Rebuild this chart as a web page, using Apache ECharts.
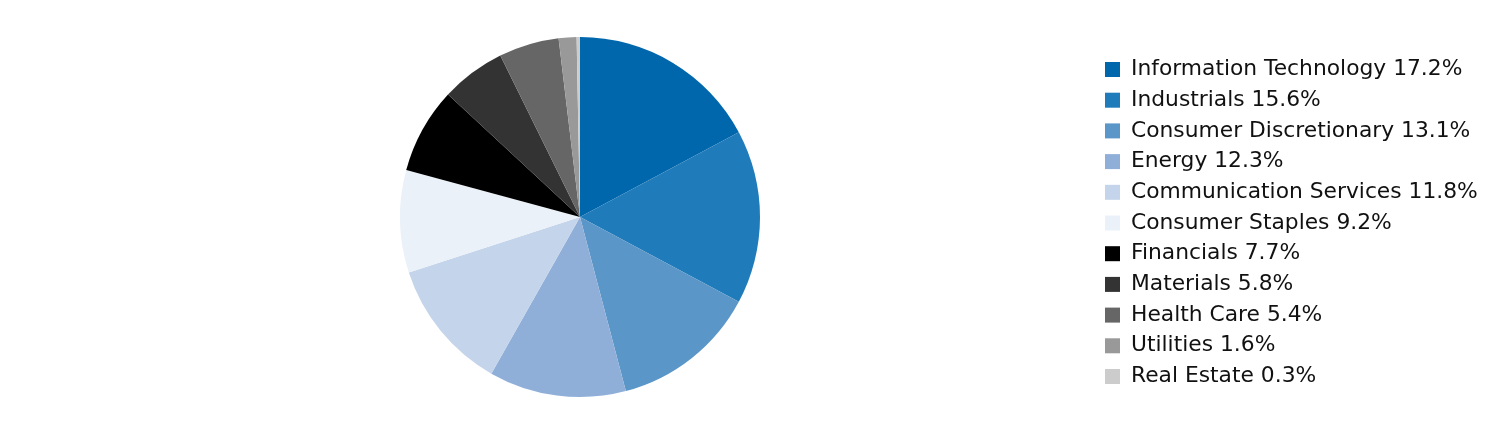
<!DOCTYPE html>
<html>
<head>
<meta charset="utf-8">
<script src="https://cdn.jsdelivr.net/npm/echarts@6/dist/echarts.min.js"></script>
<style>
  html, body { margin: 0; padding: 0; background: #fff; }
  #chart { width: 1512px; height: 444px; }
</style>
</head>
<body>
<div id="chart"></div>
<script>
var sectors = ['Information Technology', 'Industrials', 'Consumer Discretionary', 'Energy',
    'Communication Services', 'Consumer Staples', 'Financials', 'Materials',
    'Health Care', 'Utilities', 'Real Estate'];
var weights = [17.2, 15.6, 13.1, 12.3, 11.8, 9.2, 7.7, 5.8, 5.4, 1.6, 0.3];
var colors = ['#0067ac', '#1f7bba', '#5b96c8', '#8fafd9', '#c4d4ea', '#ebf1f8',
    '#000000', '#333333', '#666666', '#999999', '#cccccc'];

var myChart = echarts.init(document.getElementById('chart'));

var pieData = [];
for (var i = 0; i < sectors.length; i++) {
    pieData.push({ name: sectors[i], value: weights[i] });
}

var option = {
    animation: false,
    color: colors,
    legend: {
        orient: 'vertical',
        left: 1105,
        top: 58.5,
        itemWidth: 15,
        itemHeight: 15,
        itemGap: 8.7,
        icon: 'rect',
        textStyle: {
            fontFamily: 'DejaVu Sans',
            fontSize: 21.8,
            color: '#111',
            padding: [0, 0, 0, 6]
        },
        formatter: function (name) {
            var idx = sectors.indexOf(name);
            return name + ' ' + weights[idx].toFixed(1) + '%';
        },
        padding: 0
    },
    series: [{
        type: 'pie',
        center: [580, 217],
        radius: 180,
        startAngle: 90,
        clockwise: true,
        label: { show: false },
        labelLine: { show: false },
        itemStyle: { borderWidth: 0 },
        emphasis: { disabled: true },
        data: pieData
    }]
};

myChart.setOption(option);
</script>
</body>
</html>
